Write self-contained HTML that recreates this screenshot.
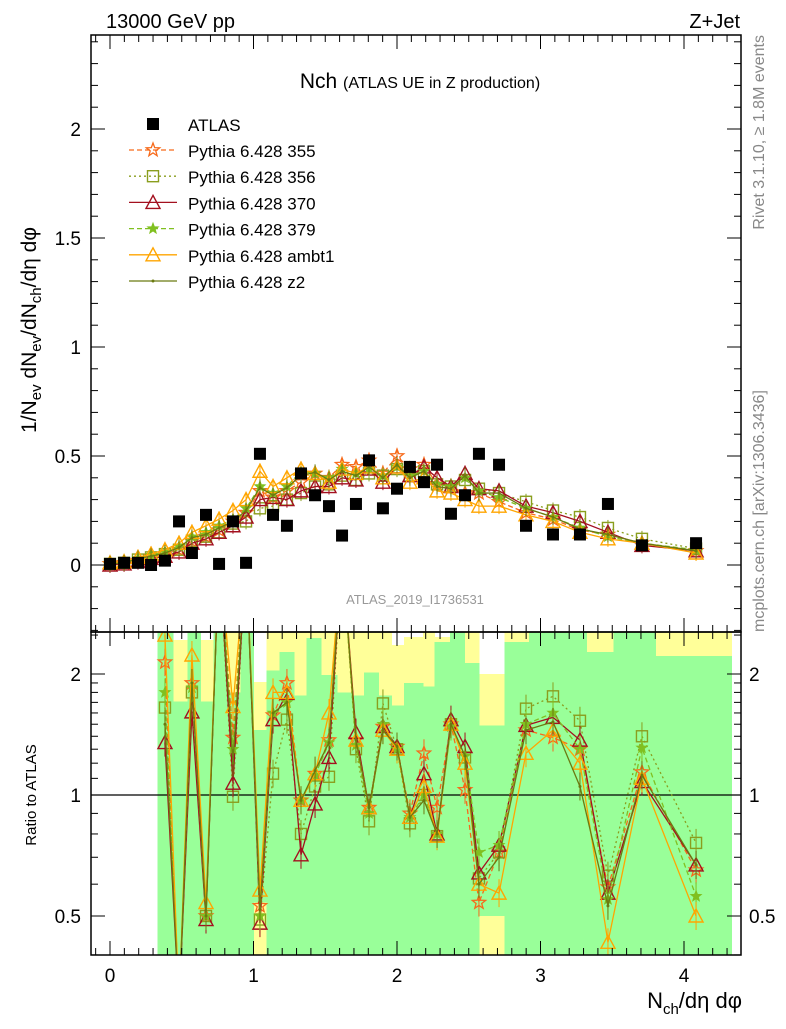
<!DOCTYPE html>
<html><head><meta charset="utf-8"><style>
body{margin:0;background:#fff;font-family:"Liberation Sans",sans-serif;}
svg text{font-family:"Liberation Sans","DejaVu Sans",sans-serif;}
</style></head><body>
<svg id="c" width="786" height="1024" xmlns="http://www.w3.org/2000/svg">
<text x="106" y="28" font-size="20">13000 GeV pp</text>
<text x="740" y="28" font-size="20" text-anchor="end">Z+Jet</text>
<text x="420" y="88" font-size="21" text-anchor="middle">Nch <tspan font-size="16">(ATLAS UE in Z production)</tspan></text>
<text x="415" y="604" font-size="13" fill="#999" text-anchor="middle">ATLAS_2019_I1736531</text>
<text transform="translate(764,35) rotate(-90)" font-size="16" fill="#888" text-anchor="end">Rivet 3.1.10, ≥ 1.8M events</text>
<text transform="translate(764,632) rotate(-90)" font-size="16" fill="#888">mcplots.cern.ch [arXiv:1306.3436]</text>
<text transform="translate(36,330) rotate(-90)" font-size="21" text-anchor="middle">1/N<tspan font-size="15" dy="5">ev</tspan><tspan dy="-5"> dN</tspan><tspan font-size="15" dy="5">ev</tspan><tspan dy="-5">/dN</tspan><tspan font-size="15" dy="5">ch</tspan><tspan dy="-5">/dη dφ</tspan></text>
<text transform="translate(36,795) rotate(-90)" font-size="15" text-anchor="middle">Ratio to ATLAS</text>
<text x="742" y="1008" font-size="22" text-anchor="end">N<tspan font-size="15" dy="6">ch</tspan><tspan dy="-6">/dη dφ</tspan></text>
<g id="g"></g>
</svg>
<script>
const xs=[0,0.098,0.195,0.286,0.383,0.481,0.571,0.669,0.76,0.857,0.948,1.045,1.136,1.233,1.331,1.429,1.526,1.617,1.714,1.805,1.902,2.0,2.09,2.188,2.279,2.376,2.474,2.571,2.711,2.899,3.087,3.275,3.47,3.707,4.084];
const atlas=[0.005,0.01,0.01,0.0,0.02,0.2,0.055,0.23,0.005,0.2,0.01,0.51,0.23,0.18,0.42,0.32,0.27,0.135,0.28,0.48,0.26,0.35,0.45,0.38,0.46,0.235,0.32,0.51,0.46,0.18,0.14,0.14,0.28,0.09,0.1];
const m355=[0.005,0.01,0.02,0.04,0.05,0.07,0.11,0.13,0.16,0.2,0.24,0.34,0.31,0.34,0.38,0.42,0.4,0.46,0.45,0.48,0.42,0.5,0.44,0.46,0.37,0.36,0.33,0.33,0.29,0.24,0.21,0.16,0.14,0.1,0.065];
const m356=[0.005,0.01,0.025,0.035,0.05,0.07,0.11,0.13,0.15,0.19,0.2,0.26,0.27,0.3,0.33,0.36,0.37,0.41,0.39,0.42,0.41,0.44,0.41,0.43,0.37,0.36,0.39,0.35,0.33,0.29,0.25,0.22,0.17,0.12,0.075];
const m370=[0.0,0.005,0.015,0.03,0.04,0.06,0.1,0.12,0.15,0.18,0.22,0.3,0.31,0.3,0.34,0.36,0.36,0.4,0.39,0.44,0.38,0.45,0.41,0.45,0.4,0.36,0.42,0.35,0.34,0.27,0.24,0.2,0.15,0.09,0.065];
const m379=[0.005,0.01,0.03,0.045,0.06,0.085,0.13,0.15,0.18,0.21,0.26,0.36,0.33,0.36,0.43,0.42,0.4,0.44,0.42,0.44,0.41,0.45,0.41,0.43,0.37,0.36,0.4,0.34,0.31,0.26,0.22,0.17,0.13,0.1,0.07];
const mambt1=[0.01,0.015,0.035,0.05,0.07,0.1,0.15,0.18,0.21,0.25,0.3,0.43,0.36,0.4,0.44,0.42,0.38,0.44,0.42,0.45,0.4,0.45,0.38,0.4,0.34,0.33,0.3,0.27,0.27,0.23,0.2,0.15,0.12,0.1,0.055];
const mz2=[0.005,0.01,0.03,0.04,0.055,0.08,0.125,0.14,0.17,0.2,0.25,0.355,0.32,0.355,0.41,0.425,0.39,0.43,0.41,0.45,0.4,0.46,0.4,0.43,0.36,0.35,0.41,0.33,0.33,0.26,0.22,0.165,0.14,0.1,0.065];
const N=null;
const r355=[N,N,N,N,2.14,0.3,1.9,0.5,5,1.39,5,0.53,1.58,1.9,0.97,1.13,1.37,5,1.37,0.93,1.48,1.32,0.9,1.27,0.93,1.5,1.03,0.54,0.72,1.45,1.39,1.3,0.59,1.14,0.65];
const r356=[N,N,N,N,1.65,0.3,1.8,0.5,5,0.99,5,0.49,1.13,1.54,0.8,1.05,1.11,5,1.3,0.86,1.69,1.3,0.85,1.0,0.79,1.5,1.24,0.62,0.72,1.64,1.76,1.53,0.63,1.4,0.76];
const r370=[N,N,N,N,1.35,0.3,1.61,0.49,5,1.07,5,0.48,1.54,1.79,0.71,0.95,1.24,5,1.43,0.93,1.48,1.32,0.88,1.13,0.8,1.54,1.32,0.64,0.75,1.49,1.56,1.37,0.57,1.08,0.67];
const r379=[N,N,N,N,1.8,0.3,1.85,0.5,5,1.3,5,0.5,1.6,1.7,0.97,1.12,1.35,5,1.33,0.9,1.5,1.3,0.88,1.0,0.8,1.48,1.25,0.72,0.75,1.5,1.6,1.3,0.55,1.31,0.56];
const rambt1=[N,N,N,N,2.5,0.3,2.23,0.54,5,1.66,5,0.58,1.8,1.8,0.97,1.13,1.6,5,1.37,0.93,1.45,1.3,0.88,1.05,0.79,1.5,1.2,0.6,0.57,1.27,1.45,1.2,0.43,1.1,0.5];
const rz2=[N,N,N,N,1.5,0.3,1.9,0.5,5,1.2,5,0.52,1.6,1.7,0.97,1.15,1.35,5,1.37,0.93,1.45,1.32,0.88,0.97,0.8,1.5,1.25,0.6,0.7,1.45,1.52,1.05,0.53,1.12,0.67];
const bandEdges=[0.33,0.44,0.54,0.63,0.72,0.81,0.91,1.0,1.09,1.18,1.28,1.37,1.47,1.58,1.69,1.77,1.87,1.96,2.05,2.18,2.26,2.37,2.47,2.57,2.75,2.92,3.32,3.51,3.8,4.33];
const greenLo=[0.3,0.3,0.3,0.3,0.3,0.3,0.3,0.54,0.3,0.3,0.3,0.3,0.3,0.3,0.3,0.3,0.3,0.3,0.3,0.3,0.3,0.3,0.3,0.5,0.3,0.3,0.3,0.3,0.3];
const greenHi=[3,1.71,3,1.71,3,1.8,3,1.45,2.04,2.27,1.77,2.46,1.99,1.8,1.77,2.02,1.77,1.67,1.9,1.86,2.4,3,2.13,1.49,2.4,3,2.27,3,2.22];
const yellowLo=[0.3,0.3,0.3,0.3,0.3,0.3,0.3,0.3,0.3,0.3,0.3,0.3,0.3,0.3,0.3,0.3,0.3,0.3,0.3,0.3,0.3,0.3,0.3,0.3,0.3,0.3,0.3,0.3,0.3];
const yellowHi=[3,2.43,3,2.43,3,3,3,1.91,3,3,3,3,3,3,3,3,3,2.36,2.47,3,2.47,3,3,2.0,3,3,3,3,3];

const NS="http://www.w3.org/2000/svg",G=document.getElementById('g');
const L=91,R=741,T=35,M=632,B=955;
const X=v=>110+143.5*v, Y=v=>565-218*v, YR=r=>795-121*Math.log2(r);
function el(t,a,p){const e=document.createElementNS(NS,t);for(const k in a)e.setAttribute(k,a[k]);(p||G).appendChild(e);return e;}
const defs=el('defs',{});
const c1=el('clipPath',{id:'cm'},defs);el('rect',{x:L,y:T,width:R-L,height:M-T},c1);
const c2=el('clipPath',{id:'cr'},defs);el('rect',{x:L,y:M,width:R-L,height:B-M},c2);
const gm=el('g',{'clip-path':'url(#cm)'});
const gr=el('g',{'clip-path':'url(#cr)'});
const gb=el('g',{'shape-rendering':'crispEdges'},gr);
for(let i=0;i<greenHi.length;i++){
  const x0=X(bandEdges[i]),x1=X(bandEdges[i+1]);
  const y=el('rect',{x:x0,y:YR(yellowHi[i]),width:x1-x0+0.6,height:YR(yellowLo[i])-YR(yellowHi[i]),fill:'#ffff99'},gb);
  
}
for(let i=0;i<greenHi.length;i++){
  const x0=X(bandEdges[i]),x1=X(bandEdges[i+1]);
  const g=el('rect',{x:x0,y:YR(greenHi[i]),width:x1-x0+0.6,height:YR(greenLo[i])-YR(greenHi[i]),fill:'#99ff99'},gb);
  
}
el('line',{x1:L,x2:R,y1:YR(1),y2:YR(1),stroke:'#000','stroke-width':1.2},gr);
const S=[
 {n:'355',m:m355,r:r355,c:'#f76a1a',d:'5,3',mk:'star'},
 {n:'356',m:m356,r:r356,c:'#8a9e1e',d:'2,3',mk:'sq'},
 {n:'370',m:m370,r:r370,c:'#a3101f',d:'',mk:'tri'},
 {n:'379',m:m379,r:r379,c:'#80c020',d:'5,3',mk:'sstar'},
 {n:'ambt1',m:mambt1,r:rambt1,c:'#ffa500',d:'',mk:'tri'},
 {n:'z2',m:mz2,r:rz2,c:'#6b7a10',d:'',mk:'dot'}];
function marker(p,k,x,y,c,s){
  s=s||1;
  if(k=='star'||k=='sstar'){const R1=(k=='star'?7:5)*s,R2=R1*0.42;let pts=[];for(let i=0;i<10;i++){const a=-Math.PI/2+i*Math.PI/5,rr=i%2?R2:R1;pts.push((x+rr*Math.cos(a)).toFixed(1)+','+(y+rr*Math.sin(a)).toFixed(1));}
    return el('polygon',{points:pts.join(' '),fill:k=='sstar'?c:'none',stroke:c,'stroke-width':1.3},p);}
  if(k=='sq')return el('rect',{x:x-5.5*s,y:y-5.5*s,width:11*s,height:11*s,fill:'none',stroke:c,'stroke-width':1.4},p);
  if(k=='tri')return el('polygon',{points:`${x},${y-7*s} ${x-7*s},${y+6*s} ${x+7*s},${y+6*s}`,fill:'none',stroke:c,'stroke-width':1.4},p);
  return el('circle',{cx:x,cy:y,r:1.5,fill:c},p);
}
S.forEach(s=>{
  const g1=el('g',{},gm);
  const g2=el('g',{},gr);
  el('polyline',{points:xs.map((x,i)=>X(x)+','+Y(s.m[i])).join(' '),fill:'none',stroke:s.c,'stroke-width':1.3,'stroke-dasharray':s.d},g1);
  xs.forEach((x,i)=>{const px=X(x),py=Y(s.m[i]);el('line',{x1:px,x2:px,y1:py-8,y2:py+8,stroke:s.c,'stroke-width':1},g1);const mk=marker(g1,s.mk,px,py,s.c);});
  const pts=[];xs.forEach((x,i)=>{if(s.r[i]!=null)pts.push(X(x)+','+YR(Math.min(s.r[i],4)));});
  el('polyline',{points:pts.join(' '),fill:'none',stroke:s.c,'stroke-width':1.3,'stroke-dasharray':s.d},g2);
  xs.forEach((x,i)=>{if(s.r[i]==null)return;const px=X(x),py=YR(Math.min(s.r[i],4));el('line',{x1:px,x2:px,y1:py-14,y2:py+14,stroke:s.c,'stroke-width':1},g2);const mk=marker(g2,s.mk,px,py,s.c);});
});
xs.forEach((x,i)=>{const r=el('rect',{x:X(x)-6,y:Y(atlas[i])-6,width:12,height:12,fill:'#000'},gm);});
el('rect',{x:L,y:T,width:R-L,height:M-T,fill:'none',stroke:'#000','stroke-width':1.5});
el('rect',{x:L,y:M,width:R-L,height:B-M,fill:'none',stroke:'#000','stroke-width':1.5});
for(let k=-1;k<=44;k++){const v=k/10,px=X(v);if(px<L||px>R)continue;const maj=k%10==0,len=maj?14:7;
 [[T,1],[M,-1],[M,1],[B,-1]].forEach(([y0,dir])=>el('line',{x1:px,x2:px,y1:y0,y2:y0+dir*len,stroke:'#000','stroke-width':1}));
 if(maj){const t=el('text',{x:px,y:B+27,'font-size':19,'text-anchor':'middle'});t.textContent=k/10;}}
for(let k=-3;k<=24;k++){const v=k/10,py=Y(v);if(py<T||py>M)continue;const maj=k%5==0,len=maj?14:7;
 el('line',{x1:L,x2:L+len,y1:py,y2:py,stroke:'#000'});el('line',{x1:R,x2:R-len,y1:py,y2:py,stroke:'#000'});
 if(maj){const t=el('text',{x:L-10,y:py+7,'font-size':19,'text-anchor':'end'});t.textContent=v;}}
[0.4,0.5,0.6,0.7,0.8,0.9,1,1.1,1.2,1.3,1.4,1.5,1.6,1.7,1.8,1.9,2,2.5].forEach(v=>{const py=YR(v);if(py<M||py>B)return;const maj=(v==0.5||v==1||v==2),len=maj?14:7;
 el('line',{x1:L,x2:L+len,y1:py,y2:py,stroke:'#000'});el('line',{x1:R,x2:R-len,y1:py,y2:py,stroke:'#000'});
 if(maj){[[L-10,'end'],[R+8,'start']].forEach(([x,a])=>{const t=el('text',{x:x,y:py+7,'font-size':19,'text-anchor':a});t.textContent=v;});}});
const lg=el('g',{});
const e0=el('g',{},lg);
el('rect',{x:147,y:118,width:12,height:12,fill:'#000'},e0);
const t0=el('text',{x:188,y:131,'font-size':17},e0);t0.textContent='ATLAS';
S.forEach((s,i)=>{const y=150+i*26.2;const e=el('g',{},lg);
 el('line',{x1:129,x2:177,y1:y,y2:y,stroke:s.c,'stroke-width':1.3,'stroke-dasharray':s.d},e);marker(e,s.mk,153,y,s.c);
 const t=el('text',{x:188,y:y+7,'font-size':17},e);t.textContent='Pythia 6.428 '+s.n;});
</script>
</body></html>
